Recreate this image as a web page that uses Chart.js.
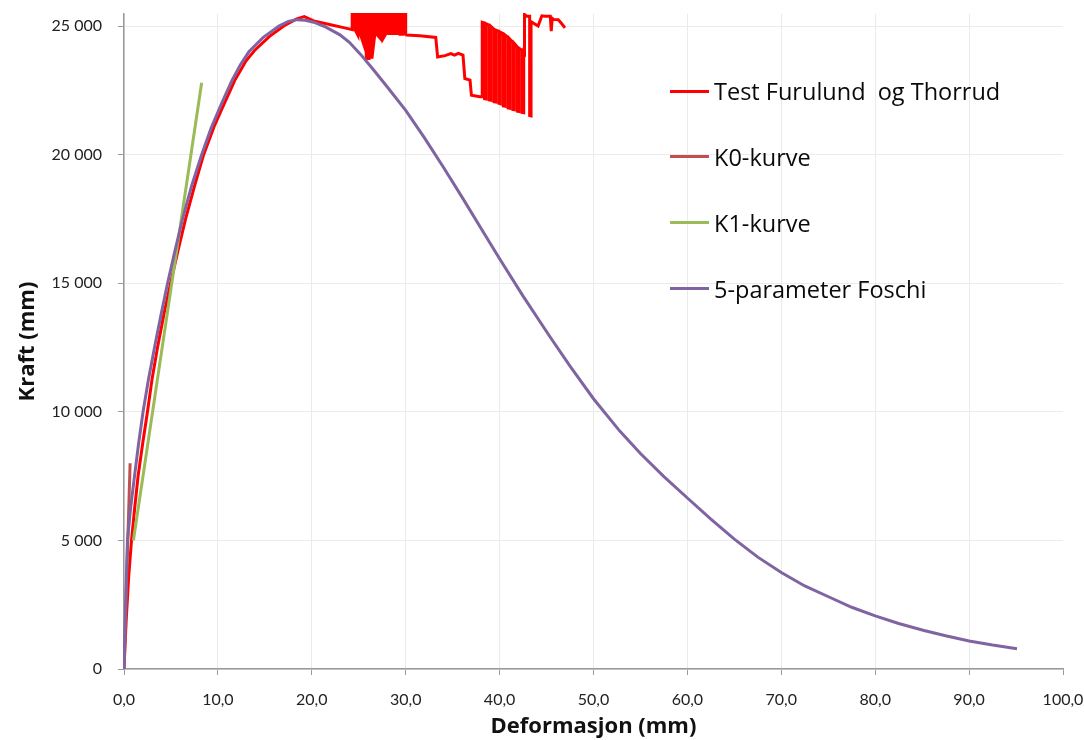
<!DOCTYPE html>
<html>
<head>
<meta charset="utf-8">
<script src="https://cdn.jsdelivr.net/npm/chart.js@4.4.0/dist/chart.umd.min.js"></script>
<style>
  html, body { margin: 0; padding: 0; background: #fff; }
  #wrap { position: relative; width: 1084px; height: 740px; }
  #legenda { position: absolute; left: 670px; top: 0; font-family: "Open Sans", sans-serif; font-size: 23.5px; color: #0a0a0a; }
  .item { position: absolute; left: 0; height: 30px; display: flex; align-items: center; white-space: pre; }
  .swatch { width: 39px; height: 3px; margin-right: 5px; }
</style>
</head>
<body>
<div id="wrap">
  <canvas id="grafico" width="1084" height="740"></canvas>
  <div id="legenda"></div>
</div>
<script>
// ===================== DADOS =====================
// [deformasjon (mm), kraft]
const testFurulund = [
    [0, 0], [0.23, 1870], [0.5, 3600], [0.8, 5000], [1.15, 6300], [1.5, 7500], [2.0, 8800],
    [2.5, 10000], [3.0, 11300], [3.57, 12500], [4.25, 13800], [4.96, 15000], [5.75, 16270],
    [6.56, 17500], [7.5, 18770], [8.48, 20000], [9.6, 21100], [10.7, 22000], [11.8, 22890],
    [13.0, 23650], [13.9, 24050], [15.5, 24600], [17.2, 25050], [18.4, 25280],
    [19.2, 25370], [20.2, 25200], [22.0, 25050], [23.5, 24930], [24.3, 24860],
    [24.3, 25800], [24.6, 25800], [24.6, 24860], [24.9, 24650], [24.9, 25800], [25.2, 25800],
    [25.2, 24650], [25.5, 24320], [25.5, 25800], [25.8, 25800], [25.8, 23740], [26.1, 23740],
    [26.1, 25800], [26.4, 25800], [26.4, 23740], [26.7, 24650], [26.7, 25800], [27.0, 25800],
    [27.0, 24650], [27.3, 24520], [27.3, 25800], [27.6, 25800], [27.6, 24520], [27.9, 24710],
    [27.9, 25800], [28.2, 25800], [28.2, 24710], [28.5, 24710], [28.5, 25800], [28.8, 25800],
    [28.8, 24710], [29.1, 24710], [29.1, 25800], [29.4, 25800], [29.4, 24680], [29.7, 24680],
    [29.7, 25800], [30.0, 25800], [30.0, 24680], [30.1, 24650],
    [31.5, 24620], [33.2, 24560], [33.4, 23800], [34.2, 23850], [34.8, 23930], [35.2, 23870],
    [35.6, 23940], [36.1, 23870], [36.3, 22960], [36.85, 22900], [37.0, 22310], [37.9, 22250],
    [38.15, 22250], [38.15, 25150], [38.4, 25120], [38.4, 22180], [38.57, 22170], [38.57, 25090],
    [38.9, 25030], [38.9, 22130], [39.07, 22120], [39.07, 24990],
    [39.4, 24880], [39.4, 22060], [39.57, 22050], [39.57, 24850],
    [39.9, 24800], [39.9, 22000], [40.07, 21980], [40.07, 24770],
    [40.4, 24700], [40.4, 21890], [40.57, 21880], [40.57, 24660],
    [40.9, 24560], [40.9, 21820], [41.07, 21810], [41.07, 24500],
    [41.4, 24370], [41.4, 21760], [41.57, 21750], [41.57, 24320],
    [41.9, 24180], [41.9, 21690], [42.07, 21680], [42.07, 24140],
    [42.4, 24050], [42.4, 21640], [42.57, 21630], [42.57, 24000],
    [42.65, 23960], [42.65, 25450], [42.9, 25380], [43.2, 25380], [43.2, 21520], [43.35, 21510],
    [43.35, 25170], [44.1, 25000], [44.5, 25400], [44.85, 25380], [45.4, 25380], [45.5, 24800],
    [45.6, 25300], [45.75, 25260], [46.25, 25250], [46.6, 25100], [46.96, 24930]
];

const k0Kurve = [[0, 0], [0.65, 8000]];

const k1Kurve = [[1.0, 5000], [8.27, 22800]];

const foschi = [
    [0, 0], [0.2, 2900], [0.37, 5000], [0.7, 6250], [1.12, 7500], [1.55, 8750], [2.03, 10000],
    [2.6, 11250], [3.25, 12500], [3.93, 13750], [4.64, 15000], [5.42, 16250], [6.24, 17500],
    [7.2, 18780], [8.27, 20000], [9.3, 21050], [10.4, 22000], [11.5, 22890], [12.4, 23500],
    [13.3, 24000], [14.8, 24550], [16.5, 25000], [17.5, 25180], [18.4, 25250], [19.3, 25230],
    [20.2, 25150], [21.5, 24960], [23.0, 24660], [24.0, 24370], [25.2, 23900], [26.5, 23330],
    [28.0, 22650], [30.0, 21720], [32.0, 20650], [34.0, 19520], [36.0, 18350], [38.0, 17150],
    [40.0, 15950], [42.5, 14500], [45.4, 12900], [47.5, 11780], [50.0, 10510], [52.8, 9250],
    [55.0, 8380], [57.5, 7480], [60.0, 6650], [62.5, 5830], [65.0, 5050], [67.5, 4350],
    [70.0, 3750], [72.5, 3230], [75.2, 2780], [77.5, 2400], [80.0, 2065], [82.5, 1770],
    [85.2, 1500], [87.5, 1290], [90.0, 1090], [92.5, 930], [95.1, 790]
];

const yTicks = [0, 5000, 10000, 15000, 20000, 25000];

// ===================== GRAFICO =====================
const pts = arr => arr.map(p => ({ x: p[0], y: p[1] }));
const formatKraft = v => String(v).replace(/\B(?=(\d{3})+(?!\d))/g, " ");
const formatDef = v => v.toFixed(1).replace(".", ",");

Chart.defaults.font.family = "Lato";

const serie = (label, data, cor, ordem, largura) => ({
    label, data: pts(data), borderColor: cor, backgroundColor: cor,
    borderWidth: largura, showLine: true, pointRadius: 0, tension: 0, order: ordem, clip: 1
});

const grafico = new Chart(document.getElementById("grafico").getContext("2d"), {
    type: "scatter",
    data: {
        datasets: [
            serie("Test Furulund  og Thorrud", testFurulund, "#FF0000", 4, 3),
            serie("K0-kurve", k0Kurve, "#C0504D", 3, 3),
            serie("K1-kurve", k1Kurve, "#9BBB59", 2, 3),
            serie("5-parameter Foschi", foschi, "#8064A2", 1, 3)
        ]
    },
    options: {
        responsive: false,
        animation: false,
        devicePixelRatio: 1,
        layout: { padding: { top: 14, right: 21, left: 0, bottom: 0 } },
        plugins: { legend: { display: false }, tooltip: { enabled: false } },
        scales: {
            x: {
                type: "linear", min: 0, max: 100,
                ticks: { stepSize: 10, padding: 15, color: "#222", font: { size: 16 }, maxRotation: 0, autoSkip: false, callback: formatDef },
                grid: { color: c => (c.tick && c.tick.value === 100) ? "rgba(0,0,0,0)" : "#EBEBEB", tickColor: "#9A9A9A", tickLength: 6 },
                border: { color: "#9A9A9A", width: 1.5 },
                title: { display: true, text: "Deformasjon (mm)", color: "#111", font: { family: "Open Sans", size: 22, weight: "bold", lineHeight: 1 }, padding: { top: 0, bottom: 2 } },
                afterFit: s => { s.height = 71; s.paddingLeft = 0; s.paddingRight = 0; }
            },
            y: {
                min: 0, max: 25470,
                afterBuildTicks: s => { s.ticks = yTicks.map(v => ({ value: v })); },
                ticks: { padding: 16, color: "#222", font: { size: 16 }, callback: formatKraft },
                grid: { color: "#EBEBEB", tickColor: "#9A9A9A", tickLength: 6 },
                border: { color: "#9A9A9A", width: 1.5 },
                title: { display: true, text: "Kraft (mm)", color: "#111", font: { family: "Open Sans", size: 22, weight: "bold", lineHeight: 1 }, padding: { top: 17, bottom: 0 } },
                afterFit: s => { s.width = 124; s.paddingTop = 0; s.paddingBottom = 0; }
            }
        }
    }
});

// ===================== LEGENDA =====================
const legenda = document.getElementById("legenda");
grafico.data.datasets.forEach((d, i) => {
    const item = document.createElement("div");
    item.className = "item";
    item.style.top = (76 + i * 65.9) + "px";
    item.innerHTML = `<span class="swatch" style="background:${d.borderColor}"></span><span>${d.label}</span>`;
    legenda.appendChild(item);
});
</script>
</body>
</html>
